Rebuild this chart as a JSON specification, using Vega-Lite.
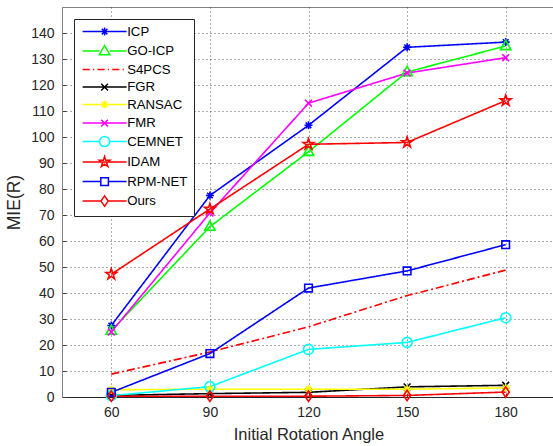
{
  "$schema": "https://vega.github.io/schema/vega-lite/v6.json",
  "width": 493,
  "height": 390,
  "autosize": "none",
  "padding": {"left": 62, "top": 7, "right": 0, "bottom": 49},
  "background": "white",
  "config": {
    "font": "Liberation Sans",
    "view": {"stroke": "#808080", "strokeWidth": 1},
    "axis": {
      "labelFont": "Liberation Sans",
      "titleFont": "Liberation Sans",
      "labelFontSize": 14,
      "titleFontSize": 16.5,
      "titleFontWeight": "normal",
      "labelColor": "#262626",
      "titleColor": "#262626",
      "grid": true,
      "gridColor": "#333333",
      "gridDash": [1, 3],
      "gridOpacity": 0.8,
      "tickColor": "#404040",
      "tickSize": -4,
      "labelPadding": 12
    },
    "legend": {
      "labelFont": "Liberation Sans",
      "labelFontSize": 13.2,
      "labelColor": "#000000",
      "symbolSize": 64,
      "symbolStrokeWidth": 1.5,
      "strokeColor": "#262626",
      "fillColor": "white",
      "padding": 6,
      "rowPadding": 3.5,
      "labelOffset": 34,
      "orient": "top-left",
      "offset": 12
    }
  },
  "data": {
    "values": [
      {"a": 60, "v": 27.5, "m": "ICP"},
      {"a": 90, "v": 77.5, "m": "ICP"},
      {"a": 120, "v": 104.5, "m": "ICP"},
      {"a": 150, "v": 134.5, "m": "ICP"},
      {"a": 180, "v": 136.5, "m": "ICP"},
      {"a": 60, "v": 25.5, "m": "GO-ICP"},
      {"a": 90, "v": 65.5, "m": "GO-ICP"},
      {"a": 120, "v": 94.3, "m": "GO-ICP"},
      {"a": 150, "v": 125, "m": "GO-ICP"},
      {"a": 180, "v": 135, "m": "GO-ICP"},
      {"a": 60, "v": 8.8, "m": "S4PCS"},
      {"a": 90, "v": 17.3, "m": "S4PCS"},
      {"a": 120, "v": 27, "m": "S4PCS"},
      {"a": 150, "v": 39, "m": "S4PCS"},
      {"a": 180, "v": 48.8, "m": "S4PCS"},
      {"a": 60, "v": 0.6, "m": "FGR"},
      {"a": 90, "v": 1.3, "m": "FGR"},
      {"a": 120, "v": 1.8, "m": "FGR"},
      {"a": 150, "v": 3.9, "m": "FGR"},
      {"a": 180, "v": 4.5, "m": "FGR"},
      {"a": 60, "v": 2.8, "m": "RANSAC"},
      {"a": 90, "v": 3, "m": "RANSAC"},
      {"a": 120, "v": 3, "m": "RANSAC"},
      {"a": 150, "v": 3, "m": "RANSAC"},
      {"a": 180, "v": 3.5, "m": "RANSAC"},
      {"a": 60, "v": 25, "m": "FMR"},
      {"a": 90, "v": 70.8, "m": "FMR"},
      {"a": 120, "v": 113, "m": "FMR"},
      {"a": 150, "v": 124.6, "m": "FMR"},
      {"a": 180, "v": 130.5, "m": "FMR"},
      {"a": 60, "v": 0.5, "m": "CEMNET"},
      {"a": 90, "v": 4, "m": "CEMNET"},
      {"a": 120, "v": 18.3, "m": "CEMNET"},
      {"a": 150, "v": 21, "m": "CEMNET"},
      {"a": 180, "v": 30.5, "m": "CEMNET"},
      {"a": 60, "v": 47.2, "m": "IDAM"},
      {"a": 90, "v": 72.3, "m": "IDAM"},
      {"a": 120, "v": 97.2, "m": "IDAM"},
      {"a": 150, "v": 97.9, "m": "IDAM"},
      {"a": 180, "v": 114, "m": "IDAM"},
      {"a": 60, "v": 1.8, "m": "RPM-NET"},
      {"a": 90, "v": 16.7, "m": "RPM-NET"},
      {"a": 120, "v": 41.9, "m": "RPM-NET"},
      {"a": 150, "v": 48.5, "m": "RPM-NET"},
      {"a": 180, "v": 58.6, "m": "RPM-NET"},
      {"a": 60, "v": 0.3, "m": "Ours"},
      {"a": 90, "v": 0.3, "m": "Ours"},
      {"a": 120, "v": 0.3, "m": "Ours"},
      {"a": 150, "v": 0.6, "m": "Ours"},
      {"a": 180, "v": 1.9, "m": "Ours"}
    ]
  },
  "encoding": {
    "x": {
      "field": "a", "type": "quantitative",
      "scale": {"domain": [45, 195], "nice": false, "zero": false},
      "axis": {"values": [60, 90, 120, 150, 180], "title": "Initial Rotation Angle", "domainColor": "#262626", "titlePadding": 7, "labelPadding": 12}
    },
    "y": {
      "field": "v", "type": "quantitative",
      "scale": {"domain": [0, 150], "nice": false},
      "axis": {"values": [0, 10, 20, 30, 40, 50, 60, 70, 80, 90, 100, 110, 120, 130, 140], "title": "MIE(R)", "titleFontSize": 17.5, "domainColor": "#808080", "titlePadding": 7, "labelPadding": 12}
    }
  },
  "layer": [
    {
      "mark": {"type": "line", "strokeWidth": 1.6, "clip": true},
      "encoding": {
        "color": {
          "field": "m", "type": "nominal",
          "scale": {
            "domain": ["ICP", "GO-ICP", "S4PCS", "FGR", "RANSAC", "FMR", "CEMNET", "IDAM", "RPM-NET", "Ours"],
            "range": ["#0000ff", "#00ff00", "#ff0000", "#000000", "#ffff00", "#ff00ff", "#00ffff", "#ff0000", "#0000ff", "#ff0000"]
          },
          "legend": null
        },
        "strokeDash": {
          "field": "m", "type": "nominal",
          "scale": {
            "domain": ["ICP", "GO-ICP", "S4PCS", "FGR", "RANSAC", "FMR", "CEMNET", "IDAM", "RPM-NET", "Ours"],
            "range": [[1, 0], [1, 0], [8, 3, 2, 3], [1, 0], [1, 0], [1, 0], [1, 0], [1, 0], [1, 0], [1, 0]]
          },
          "legend": null
        }
      }
    },
    {
      "transform": [{"filter": "datum.m != 'S4PCS'"}],
      "mark": {"type": "point", "filled": false, "size": 64, "strokeWidth": 1.6, "opacity": 1},
      "encoding": {
        "color": {
          "field": "m", "type": "nominal",
          "scale": {
            "domain": ["ICP", "GO-ICP", "S4PCS", "FGR", "RANSAC", "FMR", "CEMNET", "IDAM", "RPM-NET", "Ours"],
            "range": ["#0000ff", "#00ff00", "#ff0000", "#000000", "#ffff00", "#ff00ff", "#00ffff", "#ff0000", "#0000ff", "#ff0000"]
          },
          "legend": null
        },
        "shape": {
          "field": "m", "type": "nominal",
          "scale": {
            "domain": ["ICP", "GO-ICP", "S4PCS", "FGR", "RANSAC", "FMR", "CEMNET", "IDAM", "RPM-NET", "Ours"],
            "range": [
              "M-1,0L1,0M0,-1L0,1M-0.7,-0.7L0.7,0.7M-0.7,0.7L0.7,-0.7",
              "M0,-1.4L1.3,0.9L-1.3,0.9Z",
              "M0,0",
              "M-0.85,-0.85L0.85,0.85M-0.85,0.85L0.85,-0.85",
              "M-1,0L1,0M0,-1L0,1M-0.7,-0.7L0.7,0.7M-0.7,0.7L0.7,-0.7",
              "M-0.85,-0.85L0.85,0.85M-0.85,0.85L0.85,-0.85",
              "M1.25,0A1.25,1.25,0,1,1,-1.25,0A1.25,1.25,0,1,1,1.25,0Z",
              "M0,-1.4L0.314,-0.433L1.332,-0.433L0.509,0.165L0.823,1.133L0,0.535L-0.823,1.133L-0.509,0.165L-1.332,-0.433L-0.314,-0.433Z",
              "M-0.95,-0.95L0.95,-0.95L0.95,0.95L-0.95,0.95Z",
              "M0,-1.3L0.9,0L0,1.3L-0.9,0Z"
            ]
          },
          "legend": null
        }
      }
    },
    {
      "transform": [{"filter": "datum.v > 1000"}],
      "mark": {"type": "point", "filled": false, "size": 64, "strokeWidth": 1.6, "opacity": 1},
      "encoding": {
        "color": {
          "field": "m", "type": "nominal",
          "scale": {
            "domain": ["ICP", "GO-ICP", "S4PCS", "FGR", "RANSAC", "FMR", "CEMNET", "IDAM", "RPM-NET", "Ours"],
            "range": ["#0000ff", "#00ff00", "#ff0000", "#000000", "#ffff00", "#ff00ff", "#00ffff", "#ff0000", "#0000ff", "#ff0000"]
          },
          "legend": {"title": null}
        },
        "shape": {
          "field": "m", "type": "nominal",
          "scale": {
            "domain": ["ICP", "GO-ICP", "S4PCS", "FGR", "RANSAC", "FMR", "CEMNET", "IDAM", "RPM-NET", "Ours"],
            "range": [
              "M-1,0L10,0M3.5,0L5.5,0M4.5,-1L4.5,1M3.8,-0.7L5.2,0.7M3.8,0.7L5.2,-0.7",
              "M-1,0L3.2,0M5.8,0L10,0M4.5,-1.4L5.8,0.9L3.2,0.9Z",
              "M-1,0L0.8,0M1.6,0L1.9,0M2.7,0L4.5,0M5.3,0L5.6,0M6.4,0L8.2,0M9,0L9.3,0",
              "M-1,0L10,0M3.65,-0.85L5.35,0.85M3.65,0.85L5.35,-0.85",
              "M-1,0L10,0M3.5,0L5.5,0M4.5,-1L4.5,1M3.8,-0.7L5.2,0.7M3.8,0.7L5.2,-0.7",
              "M-1,0L10,0M3.65,-0.85L5.35,0.85M3.65,0.85L5.35,-0.85",
              "M-1,0L3.25,0M5.75,0L10,0M5.75,0A1.25,1.25,0,1,1,3.25,0A1.25,1.25,0,1,1,5.75,0Z",
              "M-1,0L10,0M4.5,-1.4L4.814,-0.433L5.832,-0.433L5.009,0.165L5.323,1.133L4.5,0.535L3.677,1.133L3.991,0.165L3.168,-0.433L4.186,-0.433Z",
              "M-1,0L3.55,0M5.45,0L10,0M3.55,-0.95L5.45,-0.95L5.45,0.95L3.55,0.95Z",
              "M-1,0L3.6,0M5.4,0L10,0M4.5,-1.3L5.4,0L4.5,1.3L3.6,0Z"
            ]
          },
          "legend": {"title": null}
        }
      }
    }
  ],
  "resolve": {"scale": {"color": "independent", "shape": "independent", "strokeDash": "independent"}}
}
